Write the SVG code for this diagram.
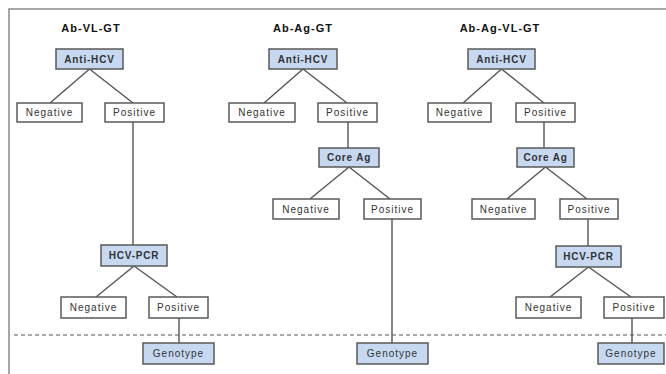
<svg xmlns="http://www.w3.org/2000/svg" width="666" height="374" viewBox="0 0 666 374">
<style>
.bg{fill:#fff}
.frame{fill:none;stroke:#8a8a8a;stroke-width:1.5}
.blue rect{fill:#c6d9f1;stroke:#595959;stroke-width:1.5}
.white rect{fill:#fff;stroke:#595959;stroke-width:1.5}
text{font-family:"Liberation Sans",Arial,sans-serif;fill:#333;text-anchor:middle;dominant-baseline:central}
.blue text{font-size:10px;font-weight:bold;letter-spacing:0.8px}
.blue text.reg{font-weight:normal;letter-spacing:1px}
.white text{font-size:10px;letter-spacing:1px}
.title{font-size:11px;font-weight:bold;letter-spacing:1px;fill:#111}
.conn line{stroke:#555;stroke-width:1.4}
.dash{stroke:#555;stroke-width:1;stroke-dasharray:4 3}
</style>
<rect class="bg" x="0" y="0" width="666" height="374"/>
<rect class="frame" x="9" y="9" width="700" height="400"/>
<line class="dash" x1="14" y1="335" x2="666" y2="335"/>
<text class="title" x="91" y="28">Ab-VL-GT</text>
<text class="title" x="303" y="28">Ab-Ag-GT</text>
<text class="title" x="500" y="28">Ab-Ag-VL-GT</text>
<g class="conn">
<line x1="89.5" y1="69" x2="50" y2="103"/>
<line x1="89.5" y1="69" x2="133" y2="103"/>
<line x1="133" y1="122" x2="133" y2="245"/>
<line x1="134" y1="266" x2="96" y2="297"/>
<line x1="134" y1="266" x2="177" y2="297"/>
<line x1="179" y1="318" x2="179" y2="343"/>
<line x1="303" y1="69" x2="264" y2="103"/>
<line x1="303" y1="69" x2="347" y2="103"/>
<line x1="348" y1="122" x2="348" y2="148"/>
<line x1="349" y1="167" x2="310" y2="199"/>
<line x1="349" y1="167" x2="390" y2="199"/>
<line x1="392" y1="219" x2="392" y2="343"/>
<line x1="501.5" y1="69" x2="463" y2="103"/>
<line x1="501.5" y1="69" x2="544" y2="103"/>
<line x1="544" y1="122" x2="544" y2="148"/>
<line x1="545.5" y1="167" x2="507" y2="199"/>
<line x1="545.5" y1="167" x2="587" y2="199"/>
<line x1="588" y1="219" x2="588" y2="246"/>
<line x1="588.5" y1="267" x2="550" y2="297"/>
<line x1="588.5" y1="267" x2="631" y2="297"/>
<line x1="632" y1="318" x2="632" y2="343"/>
</g>
<g id="t1-antihcv" class="blue"><rect x="56" y="49" width="67" height="20"/><text x="89.5" y="59">Anti-HCV</text></g>
<g id="t1-neg1" class="white"><rect x="17" y="103" width="65" height="19"/><text x="49.5" y="112.5">Negative</text></g>
<g id="t1-pos1" class="white"><rect x="105" y="103" width="59" height="19"/><text x="134.5" y="112.5">Positive</text></g>
<g id="t1-pcr" class="blue"><rect x="101" y="245" width="66" height="21"/><text x="134" y="255.5">HCV-PCR</text></g>
<g id="t1-neg2" class="white"><rect x="61" y="297" width="65" height="21"/><text x="93.5" y="307.5">Negative</text></g>
<g id="t1-pos2" class="white"><rect x="149" y="297" width="59" height="21"/><text x="178.5" y="307.5">Positive</text></g>
<g id="t1-geno" class="blue"><rect x="143" y="343" width="71" height="21"/><text class="reg" x="178.5" y="353.5">Genotype</text></g>
<g id="t2-antihcv" class="blue"><rect x="269" y="49" width="68" height="20"/><text x="303" y="59">Anti-HCV</text></g>
<g id="t2-neg1" class="white"><rect x="229" y="103" width="66" height="19"/><text x="262" y="112.5">Negative</text></g>
<g id="t2-pos1" class="white"><rect x="318" y="103" width="59" height="19"/><text x="347.5" y="112.5">Positive</text></g>
<g id="t2-coreag" class="blue"><rect x="319" y="148" width="60" height="19"/><text x="349" y="157.5">Core Ag</text></g>
<g id="t2-neg2" class="white"><rect x="273" y="199" width="66" height="20"/><text x="306" y="209">Negative</text></g>
<g id="t2-pos2" class="white"><rect x="364" y="199" width="57" height="20"/><text x="392.5" y="209">Positive</text></g>
<g id="t2-geno" class="blue"><rect x="357" y="343" width="71" height="21"/><text class="reg" x="392.5" y="353.5">Genotype</text></g>
<g id="t3-antihcv" class="blue"><rect x="468" y="49" width="67" height="20"/><text x="501.5" y="59">Anti-HCV</text></g>
<g id="t3-neg1" class="white"><rect x="428" y="103" width="63" height="19"/><text x="459.5" y="112.5">Negative</text></g>
<g id="t3-pos1" class="white"><rect x="516" y="103" width="59" height="19"/><text x="545.5" y="112.5">Positive</text></g>
<g id="t3-coreag" class="blue"><rect x="517" y="148" width="57" height="19"/><text x="545.5" y="157.5">Core Ag</text></g>
<g id="t3-neg2" class="white"><rect x="472" y="199" width="63" height="20"/><text x="503.5" y="209">Negative</text></g>
<g id="t3-pos2" class="white"><rect x="560" y="199" width="58" height="20"/><text x="589" y="209">Positive</text></g>
<g id="t3-pcr" class="blue"><rect x="556" y="246" width="65" height="21"/><text x="588.5" y="256.5">HCV-PCR</text></g>
<g id="t3-neg3" class="white"><rect x="516" y="297" width="65" height="21"/><text x="548.5" y="307.5">Negative</text></g>
<g id="t3-pos3" class="white"><rect x="604" y="297" width="60" height="21"/><text x="634" y="307.5">Positive</text></g>
<g id="t3-geno" class="blue"><rect x="598" y="343" width="66" height="21"/><text class="reg" x="631" y="353.5">Genotype</text></g>
</svg>
